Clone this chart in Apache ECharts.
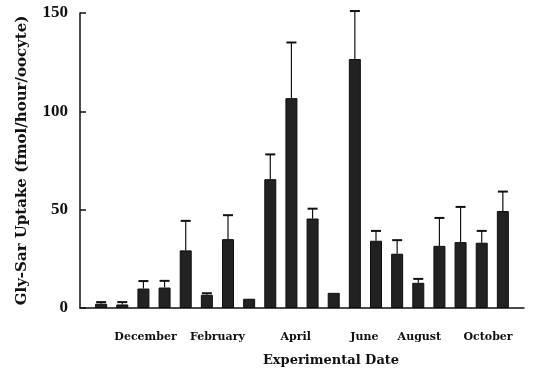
<!DOCTYPE html>
<html>
<head>
<meta charset="utf-8">
<script src="https://cdn.jsdelivr.net/npm/echarts@6/dist/echarts.min.js"></script>
<style>html,body{margin:0;padding:0;background:#fff}#c{width:533px;height:372px}</style>
</head>
<body>
<div id="c"></div>
<script>
// Sample index (experimental dates in chronological order)
const samples = ['1','2','3','4','5','6','7','8','9','10','11','12','13','14','15','16','17','18','19','20'];
// Mean Gly-Sar uptake (fmol/hour/oocyte)
const uptake = [2.2, 1.8, 9.9, 10.4, 29.3, 6.7, 35.0, 4.7, 65.5, 106.7, 45.5, 7.7, 126.6, 34.2, 27.6, 12.8, 31.6, 33.5, 33.2, 49.3];
// Upper error (SE)
const errorUp = [0.8, 1.2, 3.8, 3.4, 15.0, 0.8, 12.2, 0, 12.6, 28.3, 5.0, 0, 24.4, 5.0, 6.9, 2.0, 14.2, 17.9, 6.0, 9.9];
// Month labels and their positions along the sample axis
const monthLabels = ['December', 'February', 'April', 'June', 'August', 'October'];
const monthPositions = [3.1, 6.5, 10.2, 13.45, 16.05, 19.3];
const yTicks = [0, 50, 100, 150];

const cats = [''].concat(samples).concat(['']);
const barData = [null].concat(uptake).concat([null]);
const errData = uptake.map((v, i) => [i + 1, v, errorUp[i]]);

const SERIF = 'Liberation Serif';
const WIDE = 'DejaVu Serif';
const chart = echarts.init(document.getElementById('c'), null, {renderer: 'canvas'});
chart.setOption({
  animation: false,
  backgroundColor: '#fff',
  grid: {left: 80, right: 9, top: 13, bottom: 62, containLabel: false},
  xAxis: [{
    type: 'category',
    data: cats,
    boundaryGap: false,
    axisLine: {lineStyle: {color: '#111', width: 1.5}},
    axisTick: {show: false},
    axisLabel: {show: false},
    splitLine: {show: false},
    name: 'Experimental Date',
    nameLocation: 'middle',
    nameGap: 46,
    nameTextStyle: {fontFamily: WIDE, fontWeight: 'bold', fontSize: 13, color: '#111', padding: [0, 0, 0, 58]}
  }, {
    type: 'value',
    min: 0, max: cats.length - 1,
    position: 'bottom',
    axisLine: {show: false},
    axisTick: {show: false},
    splitLine: {show: false},
    axisLabel: {
      customValues: monthPositions,
      formatter: v => { const i = monthPositions.indexOf(v); return i >= 0 ? monthLabels[i] : ''; },
      fontFamily: WIDE, fontWeight: 'bold', fontSize: 11, color: '#111', margin: 24
    }
  }],
  yAxis: {
    type: 'value',
    min: yTicks[0], max: yTicks[yTicks.length - 1], interval: 50,
    axisLine: {show: true, lineStyle: {color: '#111', width: 1.5}},
    axisTick: {show: true, inside: true, length: 6, lineStyle: {color: '#111', width: 1.5}},
    splitLine: {show: false},
    axisLabel: {fontFamily: SERIF, fontWeight: 'bold', fontSize: 17, color: '#111', margin: 12},
    name: 'Gly-Sar Uptake (fmol/hour/oocyte)',
    nameLocation: 'middle',
    nameGap: 50,
    nameTextStyle: {fontFamily: WIDE, fontWeight: 'bold', fontSize: 15, color: '#111'}
  },
  series: [{
    type: 'bar',
    data: barData,
    barWidth: 12,
    itemStyle: {color: '#222', borderColor: '#0d0d0d', borderWidth: 1},
    z: 2
  }, {
    type: 'custom',
    data: errData,
    clip: false,
    z: 3,
    renderItem: function (params, api) {
      const x = api.value(0), m = api.value(1), e = api.value(2);
      if (!e) return null;
      const p0 = api.coord([x, m]);
      const p1 = api.coord([x, m + e]);
      const hw = 5;
      return {
        type: 'group',
        children: [
          {type: 'line', shape: {x1: p0[0], y1: p0[1], x2: p1[0], y2: p1[1]}, style: {stroke: '#111', lineWidth: 1.2}},
          {type: 'line', shape: {x1: p1[0] - hw, y1: p1[1], x2: p1[0] + hw, y2: p1[1]}, style: {stroke: '#111', lineWidth: 2}}
        ]
      };
    }
  }]
});
</script>
</body>
</html>
